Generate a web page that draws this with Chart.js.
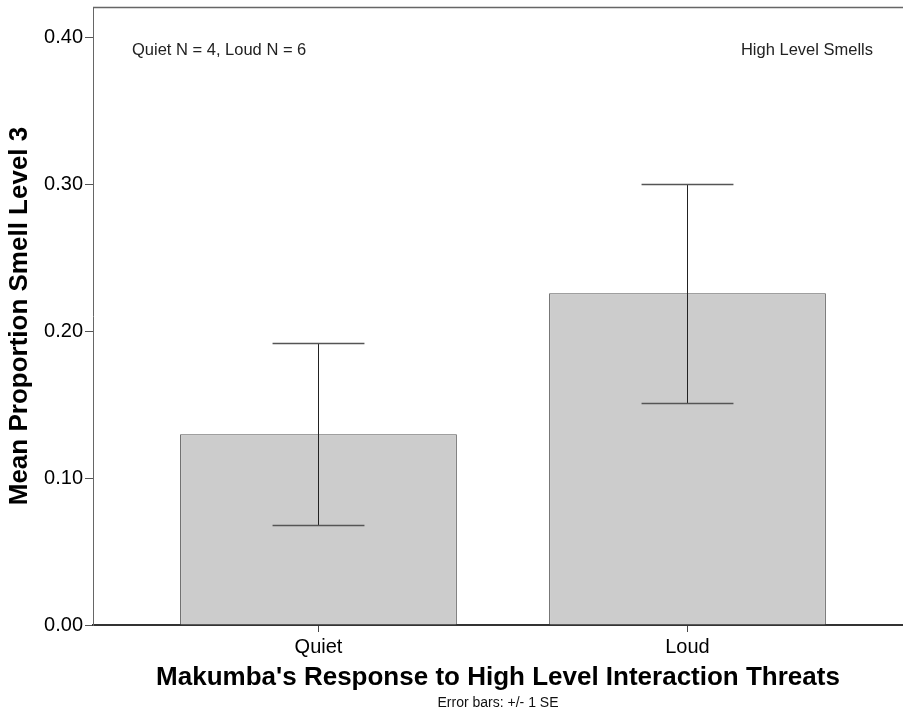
<!DOCTYPE html>
<html>
<head>
<meta charset="utf-8">
<title>Mean Proportion Smell Level 3</title>
<script src="https://cdn.jsdelivr.net/npm/chart.js@4/dist/chart.umd.min.js"></script>
<style>
  body { margin: 0; background: #fff; }
  canvas { display: block; }
</style>
</head>
<body>
<canvas id="myChart" width="903" height="717"></canvas>
<script>
// datos
const categorias = ['Quiet', 'Loud']
const posiciones = [1, 2]
const medias = [0.130, 0.226]
const errorEstandar = [0.062, 0.0745]
const ticksY = [0, 0.1, 0.2, 0.3, 0.4]
const notaIzquierda = 'Quiet N = 4, Loud N = 6'
const notaDerecha = 'High Level Smells'

const fuente = 'Arial, "Liberation Sans", sans-serif'

// barras de error (+/- 1 SE), borde superior y notas
const barrasDeError = {
    id: 'barrasDeError',
    afterDatasetsDraw(chart) {
        const ctx = chart.ctx
        const x = chart.scales.x
        const y = chart.scales.y
        const meta = chart.getDatasetMeta(0)
        ctx.save()
        medias.forEach((m, i) => {
            const px = Math.round(x.getPixelForValue(posiciones[i])) + 0.5
            const alto = Math.round(y.getPixelForValue(m + errorEstandar[i])) + 0.5
            const bajo = Math.round(y.getPixelForValue(m - errorEstandar[i])) + 0.5
            const mitad = meta.data[i].width * 0.166
            ctx.strokeStyle = '#222'
            ctx.lineWidth = 1
            ctx.beginPath()
            ctx.moveTo(px, alto)
            ctx.lineTo(px, bajo)
            ctx.stroke()
            ctx.strokeStyle = '#555'
            ctx.lineWidth = 1.3
            ctx.beginPath()
            ctx.moveTo(px - mitad, alto)
            ctx.lineTo(px + mitad, alto)
            ctx.moveTo(px - mitad, bajo)
            ctx.lineTo(px + mitad, bajo)
            ctx.stroke()
        })
        ctx.restore()
    },
    afterDraw(chart) {
        const ctx = chart.ctx
        const a = chart.chartArea
        ctx.save()
        ctx.strokeStyle = '#666'
        ctx.lineWidth = 1.5
        ctx.beginPath()
        ctx.moveTo(a.left, a.top + 0.5)
        ctx.lineTo(a.right, a.top + 0.5)
        ctx.stroke()

        ctx.fillStyle = '#222'
        ctx.font = '16.5px ' + fuente
        ctx.textBaseline = 'middle'
        ctx.textAlign = 'left'
        ctx.fillText(notaIzquierda, a.left + 39, a.top + 43)
        ctx.textAlign = 'right'
        ctx.fillText(notaDerecha, a.right - 30, a.top + 43)
        ctx.restore()
    }
}

new Chart(document.getElementById('myChart'), {
    type: 'bar',
    data: {
        datasets: [{
            data: posiciones.map((p, i) => ({ x: p, y: medias[i] })),
            backgroundColor: '#cccccc',
            borderColor: '#555',
            borderWidth: 1,
            barPercentage: 0.75,
            categoryPercentage: 1
        }]
    },
    options: {
        responsive: false,
        animation: false,
        devicePixelRatio: 1,
        layout: { padding: { top: 7, left: 0, right: 0, bottom: 0 } },
        plugins: {
            legend: { display: false },
            tooltip: { enabled: false },
            title: {
                display: true,
                fullSize: false,
                position: 'bottom',
                text: 'Error bars: +/- 1 SE',
                color: '#111',
                font: { family: fuente, size: 14, weight: 'normal' },
                padding: { top: 0, bottom: 5 }
            }
        },
        scales: {
            x: {
                type: 'linear',
                min: 0.389,
                max: 2.584,
                offset: false,
                afterBuildTicks: (s) => { s.ticks = posiciones.map(v => ({ value: v })) },
                afterFit: (s) => { s.height = 717 - 625 - 21.8; s.paddingLeft = 0; s.paddingRight = 0 },
                ticks: {
                    color: '#000',
                    padding: 3,
                    maxRotation: 0,
                    font: { family: fuente, size: 20 },
                    callback: (v) => categorias[posiciones.indexOf(v)]
                },
                grid: { display: true, drawOnChartArea: false, offset: false, tickLength: 7, color: '#444' },
                border: { color: '#333', width: 2 },
                title: {
                    display: true,
                    text: "Makumba's Response to High Level Interaction Threats",
                    color: '#000',
                    font: { family: fuente, size: 26, weight: 'bold' },
                    padding: { top: 0, bottom: 2 }
                }
            },
            y: {
                min: 0,
                max: 0.421,
                afterBuildTicks: (s) => { s.ticks = ticksY.map(v => ({ value: v })) },
                afterFit: (s) => { s.width = 93; s.paddingTop = 0; s.paddingBottom = 0 },
                ticks: {
                    color: '#000',
                    padding: 2,
                    includeBounds: false,
                    font: { family: fuente, size: 20 },
                    callback: (v) => v.toFixed(2)
                },
                grid: { display: true, drawOnChartArea: false, tickLength: 8, color: '#555' },
                border: { color: '#666', width: 1 },
                title: {
                    display: true,
                    text: 'Mean Proportion Smell Level 3',
                    color: '#000',
                    font: { family: fuente, size: 26, weight: 'bold' },
                    padding: { top: 4, bottom: 0 }
                }
            }
        }
    },
    plugins: [barrasDeError]
})
</script>
</body>
</html>
